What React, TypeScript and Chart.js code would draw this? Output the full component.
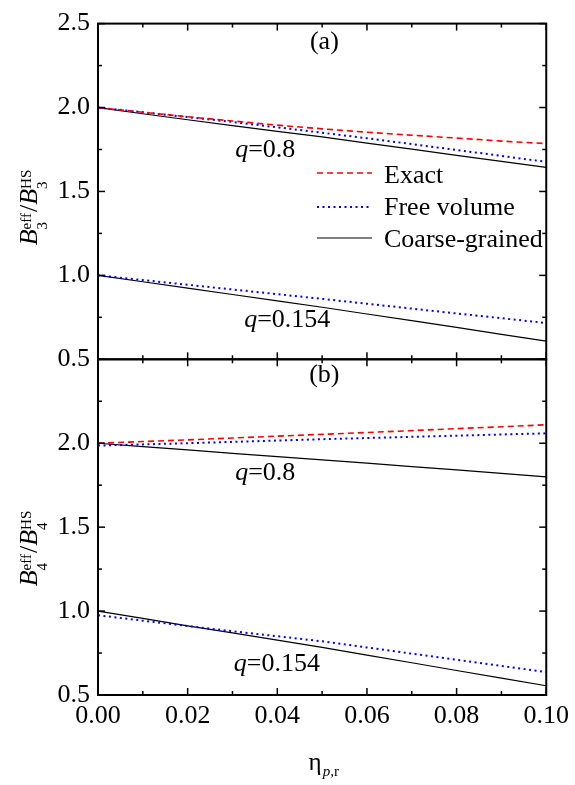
import React, { useEffect, useRef } from "react";
import { Chart, registerables } from "chart.js";

Chart.register(...registerables);

// ---------- data ----------
const etaValues = [0, 0.01, 0.02, 0.03, 0.04, 0.05, 0.06, 0.07, 0.08, 0.09, 0.1];

// Panel (a): B3eff / B3HS
const b3ExactQ08 = [2.0, 1.972, 1.945, 1.92, 1.895, 1.873, 1.853, 1.835, 1.818, 1.8, 1.785];
const b3FreeQ08 = [2.0, 1.972, 1.943, 1.914, 1.882, 1.85, 1.817, 1.782, 1.747, 1.712, 1.676];
const b3CoarseQ08 = [2.0, 1.963, 1.927, 1.892, 1.858, 1.825, 1.788, 1.752, 1.715, 1.679, 1.643];
const b3FreeQ0154 = [1.0, 0.972, 0.944, 0.916, 0.888, 0.86, 0.831, 0.802, 0.773, 0.745, 0.716];
const b3CoarseQ0154 = [1.0, 0.962, 0.924, 0.886, 0.848, 0.81, 0.77, 0.73, 0.69, 0.649, 0.608];

// Panel (b): B4eff / B4HS
const b4ExactQ08 = [2.0, 2.01, 2.02, 2.031, 2.042, 2.053, 2.064, 2.075, 2.087, 2.098, 2.11];
const b4FreeQ08 = [1.986, 1.993, 2.0, 2.008, 2.016, 2.024, 2.031, 2.038, 2.045, 2.052, 2.059];
const b4CoarseQ08 = [2.0, 1.98, 1.96, 1.94, 1.92, 1.901, 1.881, 1.861, 1.841, 1.82, 1.8];
const b4FreeQ0154 = [0.975, 0.943, 0.911, 0.88, 0.85, 0.82, 0.783, 0.746, 0.71, 0.673, 0.637];
const b4CoarseQ0154 = [1.0, 0.956, 0.912, 0.87, 0.827, 0.784, 0.738, 0.692, 0.646, 0.6, 0.555];

const xTickValues = [0, 0.02, 0.04, 0.06, 0.08, 0.1];
const xMinorTickValues = [0.01, 0.03, 0.05, 0.07, 0.09];
const yATickValues = [0.5, 1.0, 1.5, 2.0, 2.5];
const yBTickValues = [0.5, 1.0, 1.5, 2.0];
const yMajorFrameTicks = [0.5, 1.0, 1.5, 2.0, 2.5];
const yMinorTickValues = [0.75, 1.25, 1.75, 2.25];

const legendLabels = ["Exact", "Free volume", "Coarse-grained"];
const panelLabels = ["(a)", "(b)"];
const qLabels = ["0.8", "0.154"];

// ---------- styles ----------
const FONT = "'Liberation Serif', 'Times New Roman', serif";
const RED = "#ff0000";
const BLUE = "#0000ff";
const BLACK = "#000000";
const styleExact = { borderColor: RED, borderWidth: 1.6, borderDash: [6, 4] };
const styleFree = { borderColor: BLUE, borderWidth: 2, borderDash: [2, 3.5] };
const styleCoarse = { borderColor: BLACK, borderWidth: 1.2, borderDash: [] as number[] };

function pts(ys: number[]) {
  return etaValues.map((x, i) => ({ x, y: ys[i] }));
}

function ds(ys: number[], style: any, axis: string) {
  return {
    data: pts(ys),
    yAxisID: axis,
    pointRadius: 0,
    tension: 0,
    fill: false,
    ...style,
  };
}

function drawRich(ctx: CanvasRenderingContext2D, parts: { t: string; f: string; dy?: number }[], x: number, y: number) {
  let cx = x;
  for (const p of parts) {
    ctx.font = p.f;
    ctx.fillText(p.t, cx, y + (p.dy || 0));
    cx += ctx.measureText(p.t).width;
  }
}

function drawQ(ctx: CanvasRenderingContext2D, val: string, x: number, y: number) {
  ctx.textBaseline = "alphabetic";
  ctx.textAlign = "left";
  drawRich(ctx, [
    { t: "q", f: `italic 26px ${FONT}` },
    { t: "=" + val, f: `26px ${FONT}` },
  ], x, y);
}

function drawYTitle(ctx: CanvasRenderingContext2D, baseX: number, centerY: number, idx: string) {
  ctx.save();
  ctx.translate(baseX, centerY);
  ctx.rotate(-Math.PI / 2);
  ctx.textBaseline = "alphabetic";
  ctx.textAlign = "left";
  const big = `italic 26px ${FONT}`;
  const bigN = `26px ${FONT}`;
  const small = `15px ${FONT}`;
  const supDy = -6;
  const subDy = 10;
  const measure = (t: string, f: string) => {
    ctx.font = f;
    return ctx.measureText(t).width;
  };
  const wB = measure("B", big);
  const wEff = Math.max(measure("eff", small), measure(idx, small));
  const wSlash = measure("/", bigN);
  const wHS = Math.max(measure("HS", small), measure(idx, small));
  const total = wB + wEff + wSlash + wB + wHS + 2;
  let x = -total / 2;
  ctx.font = big;
  ctx.fillText("B", x, 0);
  x += wB;
  ctx.font = small;
  ctx.fillText("eff", x, supDy);
  ctx.fillText(idx, x, subDy);
  x += wEff + 1;
  ctx.font = bigN;
  ctx.fillText("/", x, 0);
  x += wSlash;
  ctx.font = big;
  ctx.fillText("B", x, 0);
  x += wB;
  ctx.font = small;
  ctx.fillText("HS", x, supDy);
  ctx.fillText(idx, x, subDy);
  ctx.restore();
}

const decorPlugin = {
  id: "decor",
  afterDraw(chart: any) {
    const ctx: CanvasRenderingContext2D = chart.ctx;
    const xs = chart.scales.x;
    const ya = chart.scales.yA;
    const yb = chart.scales.yB;
    const L = xs.left;
    const R = xs.right;
    ctx.save();
    ctx.fillStyle = BLACK;
    ctx.strokeStyle = BLACK;

    // frames
    ctx.lineWidth = 2;
    for (const ys of [ya, yb]) {
      ctx.strokeRect(L, ys.top, R - L, ys.bottom - ys.top);
    }

    // tick marks (inward)
    ctx.lineWidth = 1.5;
    const line = (x1: number, y1: number, x2: number, y2: number) => {
      ctx.beginPath();
      ctx.moveTo(x1, y1);
      ctx.lineTo(x2, y2);
      ctx.stroke();
    };
    for (const ys of [ya, yb]) {
      const xt = [
        ...xTickValues.map((v) => [v, 7]),
        ...xMinorTickValues.map((v) => [v, 4]),
      ];
      for (const [v, len] of xt) {
        const px = xs.getPixelForValue(v);
        line(px, ys.bottom, px, ys.bottom - len);
        line(px, ys.top, px, ys.top + len);
      }
      const yt = [
        ...yMajorFrameTicks.map((v) => [v, 7]),
        ...yMinorTickValues.map((v) => [v, 4]),
      ];
      for (const [v, len] of yt) {
        const py = ys.getPixelForValue(v);
        line(L, py, L + len, py);
        line(R, py, R - len, py);
      }
    }

    // panel labels
    ctx.font = `26px ${FONT}`;
    ctx.textAlign = "center";
    ctx.textBaseline = "middle";
    ctx.fillText(panelLabels[0], xs.getPixelForValue(0.0505), ya.getPixelForValue(2.39));
    ctx.fillText(panelLabels[1], xs.getPixelForValue(0.0505), yb.getPixelForValue(2.405));

    // q annotations
    drawQ(ctx, qLabels[0], xs.getPixelForValue(0.0306), ya.getPixelForValue(1.706));
    drawQ(ctx, qLabels[1], xs.getPixelForValue(0.0326), ya.getPixelForValue(0.694));
    drawQ(ctx, qLabels[0], xs.getPixelForValue(0.0306), yb.getPixelForValue(1.782));
    drawQ(ctx, qLabels[1], xs.getPixelForValue(0.0303), yb.getPixelForValue(0.641));

    // legend
    const legendStyles = [styleExact, styleFree, styleCoarse];
    const lineY = [173, 207, 238];
    const textY = [183, 215, 247];
    for (let i = 0; i < 3; i++) {
      const s = legendStyles[i];
      ctx.save();
      ctx.strokeStyle = s.borderColor;
      ctx.lineWidth = s.borderWidth;
      ctx.setLineDash(s.borderDash);
      line(317, lineY[i], 372, lineY[i]);
      ctx.restore();
      ctx.font = `26px ${FONT}`;
      ctx.textAlign = "left";
      ctx.textBaseline = "alphabetic";
      ctx.fillText(legendLabels[i], 384, textY[i]);
    }

    // y titles
    drawYTitle(ctx, 37, 207, "3");
    drawYTitle(ctx, 37, 548, "4");

    // x title
    ctx.textAlign = "left";
    ctx.textBaseline = "alphabetic";
    ctx.font = `25px ${FONT}`;
    const etaW = ctx.measureText("η").width;
    const cx = (L + R) / 2 + 2;
    const startX = cx - (etaW + 18) / 2;
    ctx.fillText("η", startX, 770);
    drawRich(ctx, [
      { t: "p", f: `italic 15px ${FONT}` },
      { t: ",r", f: `15px ${FONT}` },
    ], startX + etaW + 1, 776);

    ctx.restore();
  },
};

export default function App() {
  const canvasRef = useRef<HTMLCanvasElement | null>(null);

  useEffect(() => {
    document.body.style.margin = "0";
    const canvas = canvasRef.current;
    if (!canvas) return;
    const tickFont = { family: FONT, size: 26 };
    const chart = new Chart(canvas, {
      type: "line",
      data: {
        datasets: [
          ds(b3ExactQ08, styleExact, "yA"),
          ds(b3FreeQ08, styleFree, "yA"),
          ds(b3CoarseQ08, styleCoarse, "yA"),
          ds(b3FreeQ0154, styleFree, "yA"),
          ds(b3CoarseQ0154, styleCoarse, "yA"),
          ds(b4ExactQ08, styleExact, "yB"),
          ds(b4FreeQ08, styleFree, "yB"),
          ds(b4CoarseQ08, styleCoarse, "yB"),
          ds(b4FreeQ0154, styleFree, "yB"),
          ds(b4CoarseQ0154, styleCoarse, "yB"),
        ] as any,
      },
      options: {
        animation: false,
        responsive: false,
        devicePixelRatio: 1,
        layout: { padding: { top: 16, right: 26, left: 0, bottom: 0 } },
        plugins: { legend: { display: false }, tooltip: { enabled: false } },
        scales: {
          x: {
            type: "linear",
            position: "bottom",
            min: 0,
            max: 0.1,
            grid: { display: false, drawTicks: false },
            border: { display: false },
            afterBuildTicks: (s: any) => {
              s.ticks = xTickValues.map((v) => ({ value: v }));
            },
            afterFit: (s: any) => {
              s.height = 90;
            },
            ticks: {
              font: tickFont,
              color: BLACK,
              padding: 6,
              maxRotation: 0,
              autoSkip: false,
              callback: (v: any) => Number(v).toFixed(2),
            },
          },
          yB: {
            type: "linear",
            position: "left",
            stack: "panels",
            stackWeight: 1,
            min: 0.5,
            max: 2.5,
            grid: { display: false, drawTicks: false },
            border: { display: false },
            afterBuildTicks: (s: any) => {
              s.ticks = yBTickValues.map((v) => ({ value: v }));
            },
            afterFit: (s: any) => {
              s.width = 98;
            },
            ticks: {
              font: tickFont,
              color: BLACK,
              padding: 8,
              autoSkip: false,
              callback: (v: any) => Number(v).toFixed(1),
            },
          },
          yA: {
            type: "linear",
            position: "left",
            stack: "panels",
            stackWeight: 1,
            min: 0.5,
            max: 2.5,
            grid: { display: false, drawTicks: false },
            border: { display: false },
            afterBuildTicks: (s: any) => {
              s.ticks = yATickValues.map((v) => ({ value: v }));
            },
            afterFit: (s: any) => {
              s.width = 98;
            },
            ticks: {
              font: tickFont,
              color: BLACK,
              padding: 8,
              autoSkip: false,
              callback: (v: any) => Number(v).toFixed(1),
            },
          },
        },
      } as any,
      plugins: [decorPlugin],
    });
    return () => chart.destroy();
  }, []);

  return (
    <div style={{ position: "absolute", left: 0, top: 0, width: 575, height: 785, background: "#fff" }}>
      <canvas ref={canvasRef} width={575} height={785} style={{ display: "block", width: 575, height: 785 }} />
    </div>
  );
}
